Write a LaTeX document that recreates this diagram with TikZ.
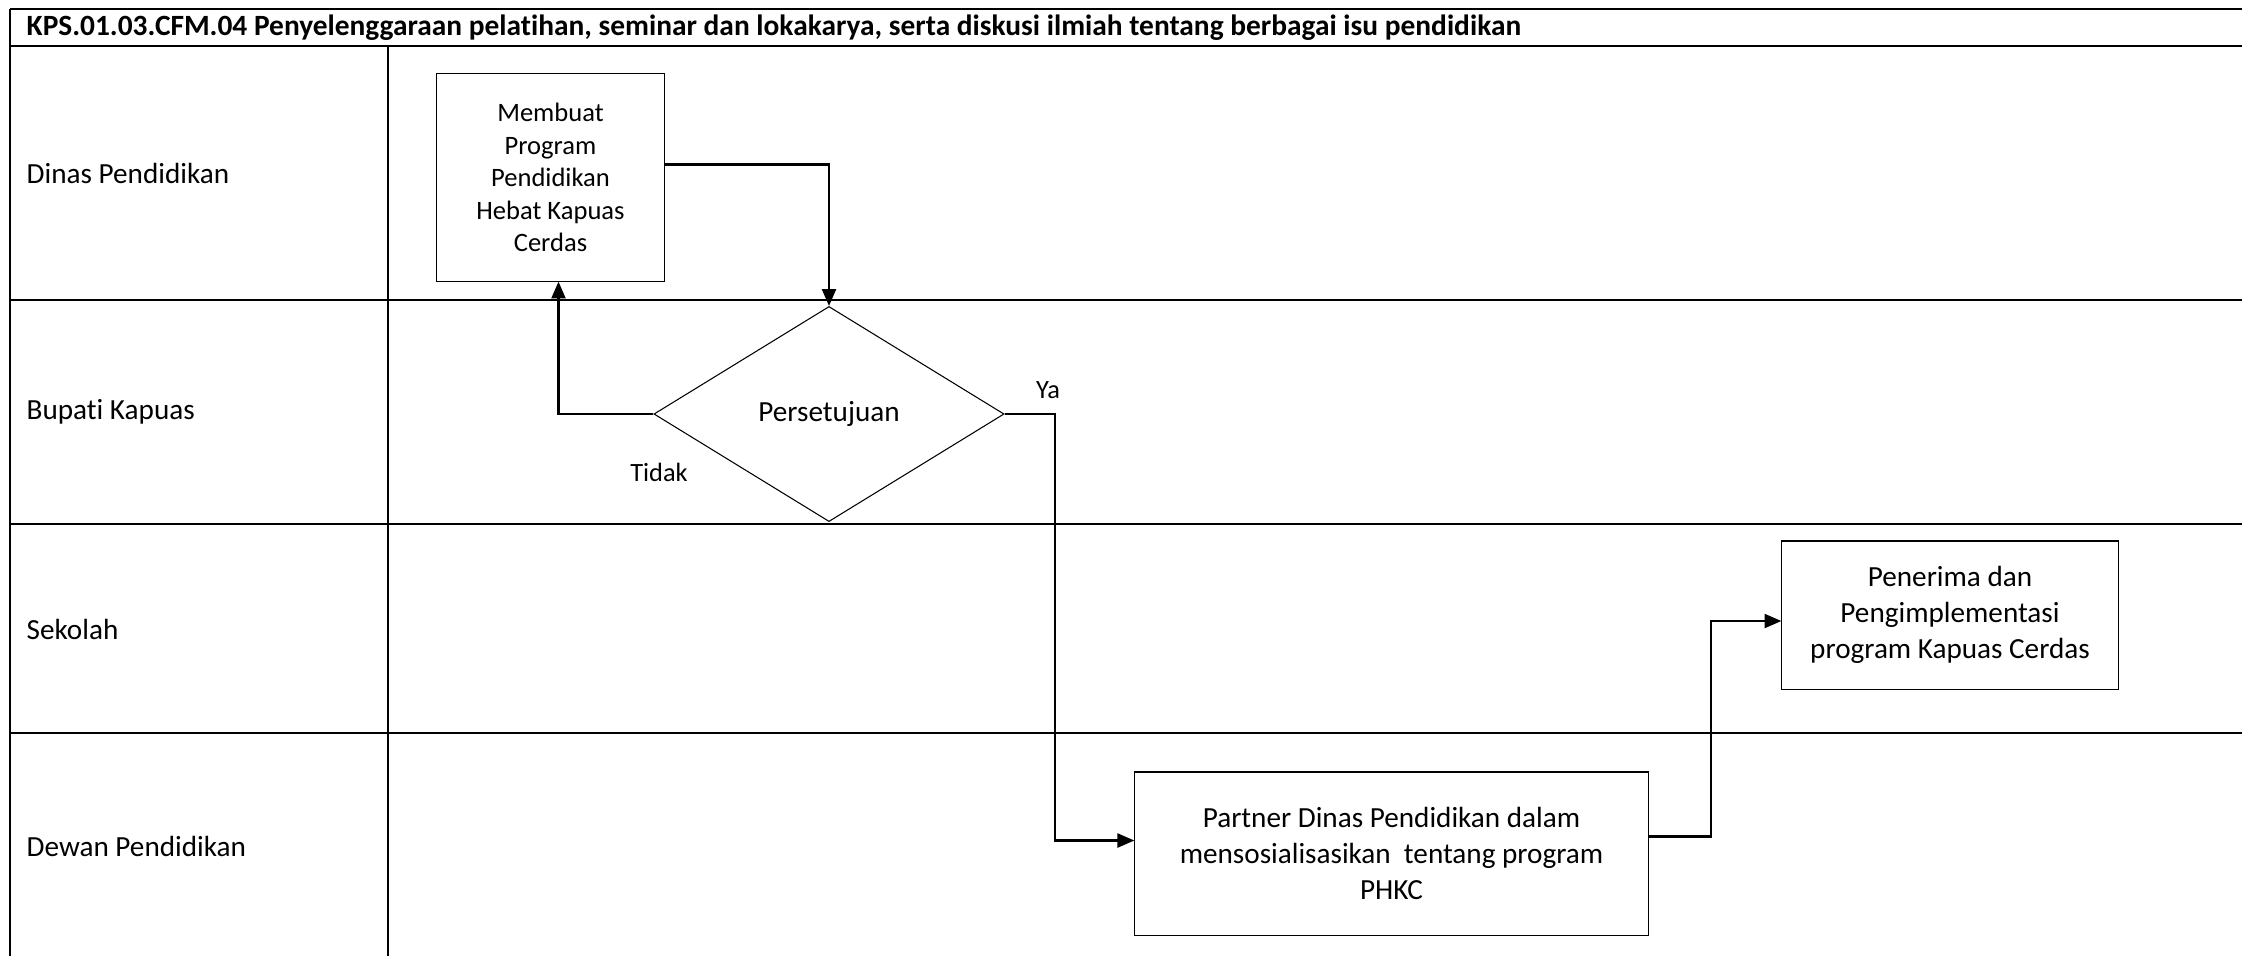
\documentclass[tikz,border=0pt]{standalone}
\usepackage{fontspec}
\setmainfont{Carlito}[Ligatures=NoCommon]
\usetikzlibrary{positioning,arrows.meta,shapes.geometric,calc}

\begin{document}
\begin{tikzpicture}[x=0.01cm,y=-0.01cm,
    lane/.style={line width=0.65pt},
    lanelbl/.style={anchor=west,inner sep=0pt,font=\fontsize{8.3}{10}\selectfont},
    proc/.style={draw,line width=0.3pt,align=center,inner sep=0pt},
    flow/.style={-{Triangle[length=4.8pt,width=4pt]},line width=0.6pt},
    lbl/.style={inner sep=0pt,font=\fontsize{7.5}{9}\selectfont}]
    \useasboundingbox (0,0) rectangle (2242,956);
    % swimlane frame
    \draw[lane] (10,9) -- (2242,9);
    \draw[lane] (10,46) -- (2242,46);
    \draw[lane] (10,9) -- (10,956);
    \draw[lane] (388,46) -- (388,956);
    \foreach \y in {300,524,733} \draw[lane] (10,\y) -- (2242,\y);
    \node[anchor=west,inner sep=0pt,font=\fontsize{8.36}{10}\selectfont\bfseries] (title) at (26,27.5)
      {KPS.01.03.CFM.04 Penyelenggaraan pelatihan, seminar dan lokakarya, serta diskusi ilmiah tentang berbagai isu pendidikan};
    \node[lanelbl] (dinas) at (26,173) {Dinas Pendidikan};
    \node[lanelbl] (bupati) at (26,412) {Bupati Kapuas};
    \node[lanelbl] (sekolah) at (26,629) {Sekolah};
    \node[lanelbl] (dewan) at (26,846) {Dewan Pendidikan};
    % steps
    \node[proc,minimum width=2.27cm,minimum height=2.07cm,font=\fontsize{7.55}{9.25}\selectfont] (prog) at (550.5,177.5)
      {Membuat\\Program\\Pendidikan\\Hebat Kapuas\\Cerdas};
    \node[draw,diamond,line width=0.3pt,inner sep=0pt,minimum width=3.5cm,minimum height=2.15cm,font=\fontsize{8.3}{10}\selectfont] (dec) at (829,414) {Persetujuan};
    \node[proc,minimum width=5.13cm,minimum height=1.63cm,font=\fontsize{8.3}{10.2}\selectfont] (partner) at (1391.5,853.5)
      {Partner Dinas Pendidikan dalam\\mensosialisasikan\ \ tentang program\\PHKC};
    \node[proc,minimum width=3.36cm,minimum height=1.48cm,font=\fontsize{8.3}{10.2}\selectfont] (terima) at (1950,615)
      {Penerima dan\\Pengimplementasi\\program Kapuas Cerdas};
    \node[lbl] (ya) at (1048,390) {Ya};
    \node[lbl] (tidak) at (659,472) {Tidak};
    % connectors
    \draw[flow] ($(prog.east)+(0,-13)$) -| (dec.north);
    \draw[flow] (dec.west) -| ($(prog.south)+(8,0)$);
    \draw[flow] (dec.east) -- ++(50,0) |- ($(partner.west)+(0,-13)$);
    \draw[flow] ($(partner.east)+(0,-17)$) -- ++(62,0) |- ($(terima.west)+(0,6)$);
\end{tikzpicture}
\end{document}
